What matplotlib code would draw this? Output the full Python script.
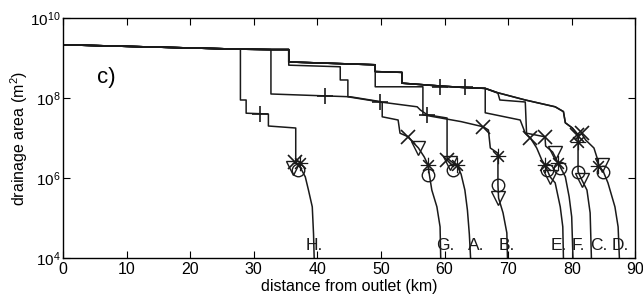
import numpy as np
import matplotlib
matplotlib.use('Agg')
import matplotlib.pyplot as plt

plt.rcParams['font.family'] = ['Liberation Sans', 'DejaVu Sans']
plt.rcParams['mathtext.default'] = 'regular'

# values: distance (km), log10 drainage area (m^2)
trunk_x = [0, 10, 20, 27.9, 32.7, 35.5]
trunk_a = [9.33, 9.29, 9.25, 9.22, 9.21, 9.21]

H_x = [27.9, 28.8, 28.8, 32.3, 32.3, 36.6, 36.6, 37.2, 38.1, 38.6, 39.2, 39.4, 39.5]
H_a = [7.95, 7.95, 7.62, 7.6, 7.3, 7.25, 6.4, 6.3, 6.03, 5.7, 5.28, 4.6, 4.0]

G_x = [32.7, 45.2, 49.9, 50.2, 50.2, 52.7, 53.0, 54.3, 55.0, 55.9, 56.8, 57.4, 57.6, 58.0, 58.8, 59.3, 59.4]
G_a = [8.1, 8.03, 7.91, 7.88, 7.53, 7.45, 7.12, 7.03, 6.9, 6.75, 6.53, 6.33, 6.1, 5.7, 5.28, 4.78, 4.0]

A_x = [35.5, 43.6, 43.6, 44.8, 44.8, 49.9, 55.7, 56.2, 57.3, 60.4, 60.4, 61.0, 62.0, 62.6, 63.2, 63.6, 63.9, 64.1]
A_a = [8.82, 8.78, 8.45, 8.45, 8.03, 7.9, 7.78, 7.7, 7.58, 7.5, 6.5, 6.42, 6.3, 6.1, 5.7, 5.2, 4.6, 4.0]

upper_x = [35.5, 49.1]
upper_a = [8.9, 8.83]

B_x = [49.1, 56.6, 56.6, 57.3, 62.6, 66.1, 66.9, 67.2, 68.4, 68.4, 68.5, 69.2, 69.8, 69.9]
B_a = [8.28, 8.28, 7.58, 7.56, 7.41, 7.28, 7.2, 6.75, 6.62, 5.83, 5.5, 5.13, 4.63, 4.0]

top_x = [49.1, 53.3, 53.3, 59.3, 63.2, 66.4]
top_a = [8.66, 8.64, 8.37, 8.3, 8.26, 8.24]

E_x = [66.4, 71.9, 72.7, 73.5, 74.5, 75.3, 75.8, 76.6, 77.4, 78.2, 78.6, 78.7]
E_a = [7.63, 7.45, 7.12, 7.0, 6.75, 6.45, 6.33, 6.03, 5.88, 5.28, 4.78, 4.0]

F_x = [68.4, 68.7, 72.7, 72.9, 75.8, 75.9, 77.0, 77.9, 79.0, 79.6, 80.0, 80.2]
F_a = [8.12, 7.95, 7.9, 7.12, 7.03, 6.8, 6.65, 6.37, 6.03, 5.53, 5.03, 4.0]

CD_x = [68.4, 72.7, 77.4, 78.7, 79.0, 80.1, 81.0]
CD_a = [8.13, 7.95, 7.78, 7.66, 7.38, 7.25, 7.08]

C_x = [81.0, 81.0, 81.6, 82.4, 82.9, 83.1]
C_a = [6.9, 6.16, 5.95, 5.7, 5.13, 4.0]

D_x = [81.6, 82.2, 83.5, 84.0, 84.3, 85.0, 85.7, 86.8, 87.3, 87.5]
D_a = [7.1, 6.95, 6.75, 6.5, 6.3, 6.15, 5.88, 5.28, 4.78, 4.0]

# markers
plus_x = [31.0, 41.2, 49.9, 57.3, 59.3, 63.2]
plus_a = [7.61, 8.06, 7.91, 7.58, 8.28, 8.27]
cross_x = [36.5, 54.3, 60.4, 66.1, 73.5, 75.8, 80.8, 81.6]
cross_a = [6.4, 7.03, 6.45, 7.28, 7.0, 7.03, 7.08, 7.12]
star_x = [37.3, 57.4, 62.0, 68.4, 75.8, 77.9, 81.0, 84.2]
star_a = [6.37, 6.33, 6.33, 6.55, 6.33, 6.37, 6.9, 6.3]
circ_x = [37.0, 57.4, 61.4, 68.4, 76.1, 78.2, 81.0, 85.0]
circ_a = [6.2, 6.08, 6.2, 5.83, 6.2, 6.25, 6.16, 6.15]
tri_x = [36.2, 55.9, 60.9, 68.4, 76.6, 77.4, 81.6, 84.8]
tri_a = [6.25, 6.75, 6.38, 5.5, 6.03, 6.63, 5.95, 6.33]

labels = ['H.', 'G.', 'A.', 'B.', 'E.', 'F.', 'C.', 'D.']
label_x = [39.5, 60.1, 65.0, 69.8, 77.9, 81.0, 84.2, 87.6]

profiles = [
    (trunk_x[:4] + H_x, trunk_a[:4] + H_a),
    (trunk_x[:5] + G_x, trunk_a[:5] + G_a),
    (trunk_x + A_x, trunk_a + A_a),
    (trunk_x + upper_x + B_x, trunk_a + upper_a + B_a),
    (trunk_x + upper_x + top_x + E_x, trunk_a + upper_a + top_a + E_a),
    (trunk_x + upper_x + top_x + F_x, trunk_a + upper_a + top_a + F_a),
    (trunk_x + upper_x + top_x + CD_x + C_x, trunk_a + upper_a + top_a + CD_a + C_a),
    (trunk_x + upper_x + top_x + CD_x + D_x, trunk_a + upper_a + top_a + CD_a + D_a),
]

fig = plt.figure(figsize=(6.43, 3.04), dpi=100)
ax = fig.add_axes([0.098, 0.151, 0.89, 0.79])

col = '#1a1a1a'
for px, pa in profiles:
    ax.plot(px, 10 ** np.array(pa), color=col, lw=1.1)

# matlab-style asterisk = 8 spokes
ax.plot(plus_x, 10 ** np.array(plus_a), '+', color=col, ms=12, mew=1.2)
ax.plot(cross_x, 10 ** np.array(cross_a), 'x', color=col, ms=10, mew=1.2)
ax.plot(star_x, 10 ** np.array(star_a), marker=(8, 2, 0), ls='none', color=col, ms=11, mew=0.8)
ax.plot(circ_x, 10 ** np.array(circ_a), 'o', color=col, ms=9, mfc='none', mew=1.0)
ax.plot(tri_x, 10 ** np.array(tri_a), 'v', color=col, ms=10, mfc='none', mew=1.0)

for lab, lx in zip(labels, label_x):
    ax.text(lx, 10 ** 4.2, lab, ha='center', va='baseline', fontsize=12.5, color=col)

ax.text(6.8, 10 ** 8.5, 'c)', ha='center', va='center', fontsize=16)

ax.set_yscale('log')
ax.set_xlim(0, 90)
ax.set_ylim(1e4, 1e10)
ax.set_xticks(range(0, 91, 10))
ax.set_yticks([1e4, 1e6, 1e8, 1e10])
ax.set_yticklabels(['$10^{4}$', '$10^{6}$', '$10^{8}$', '$10^{10}$'])
ax.minorticks_off()
ax.tick_params(direction='in', length=5, top=True, right=True, labelsize=11.5, pad=3)
ax.tick_params(axis='y', labelsize=11, pad=2)
for s in ax.spines.values():
    s.set_linewidth(1.0)
ax.set_xlabel('distance from outlet (km)', fontsize=11.5, labelpad=1)
ax.set_ylabel('drainage area (m$^2$)', fontsize=11.5)
ax.yaxis.set_label_coords(-0.058, 0.5)

fig.savefig('out.png', dpi=100)
